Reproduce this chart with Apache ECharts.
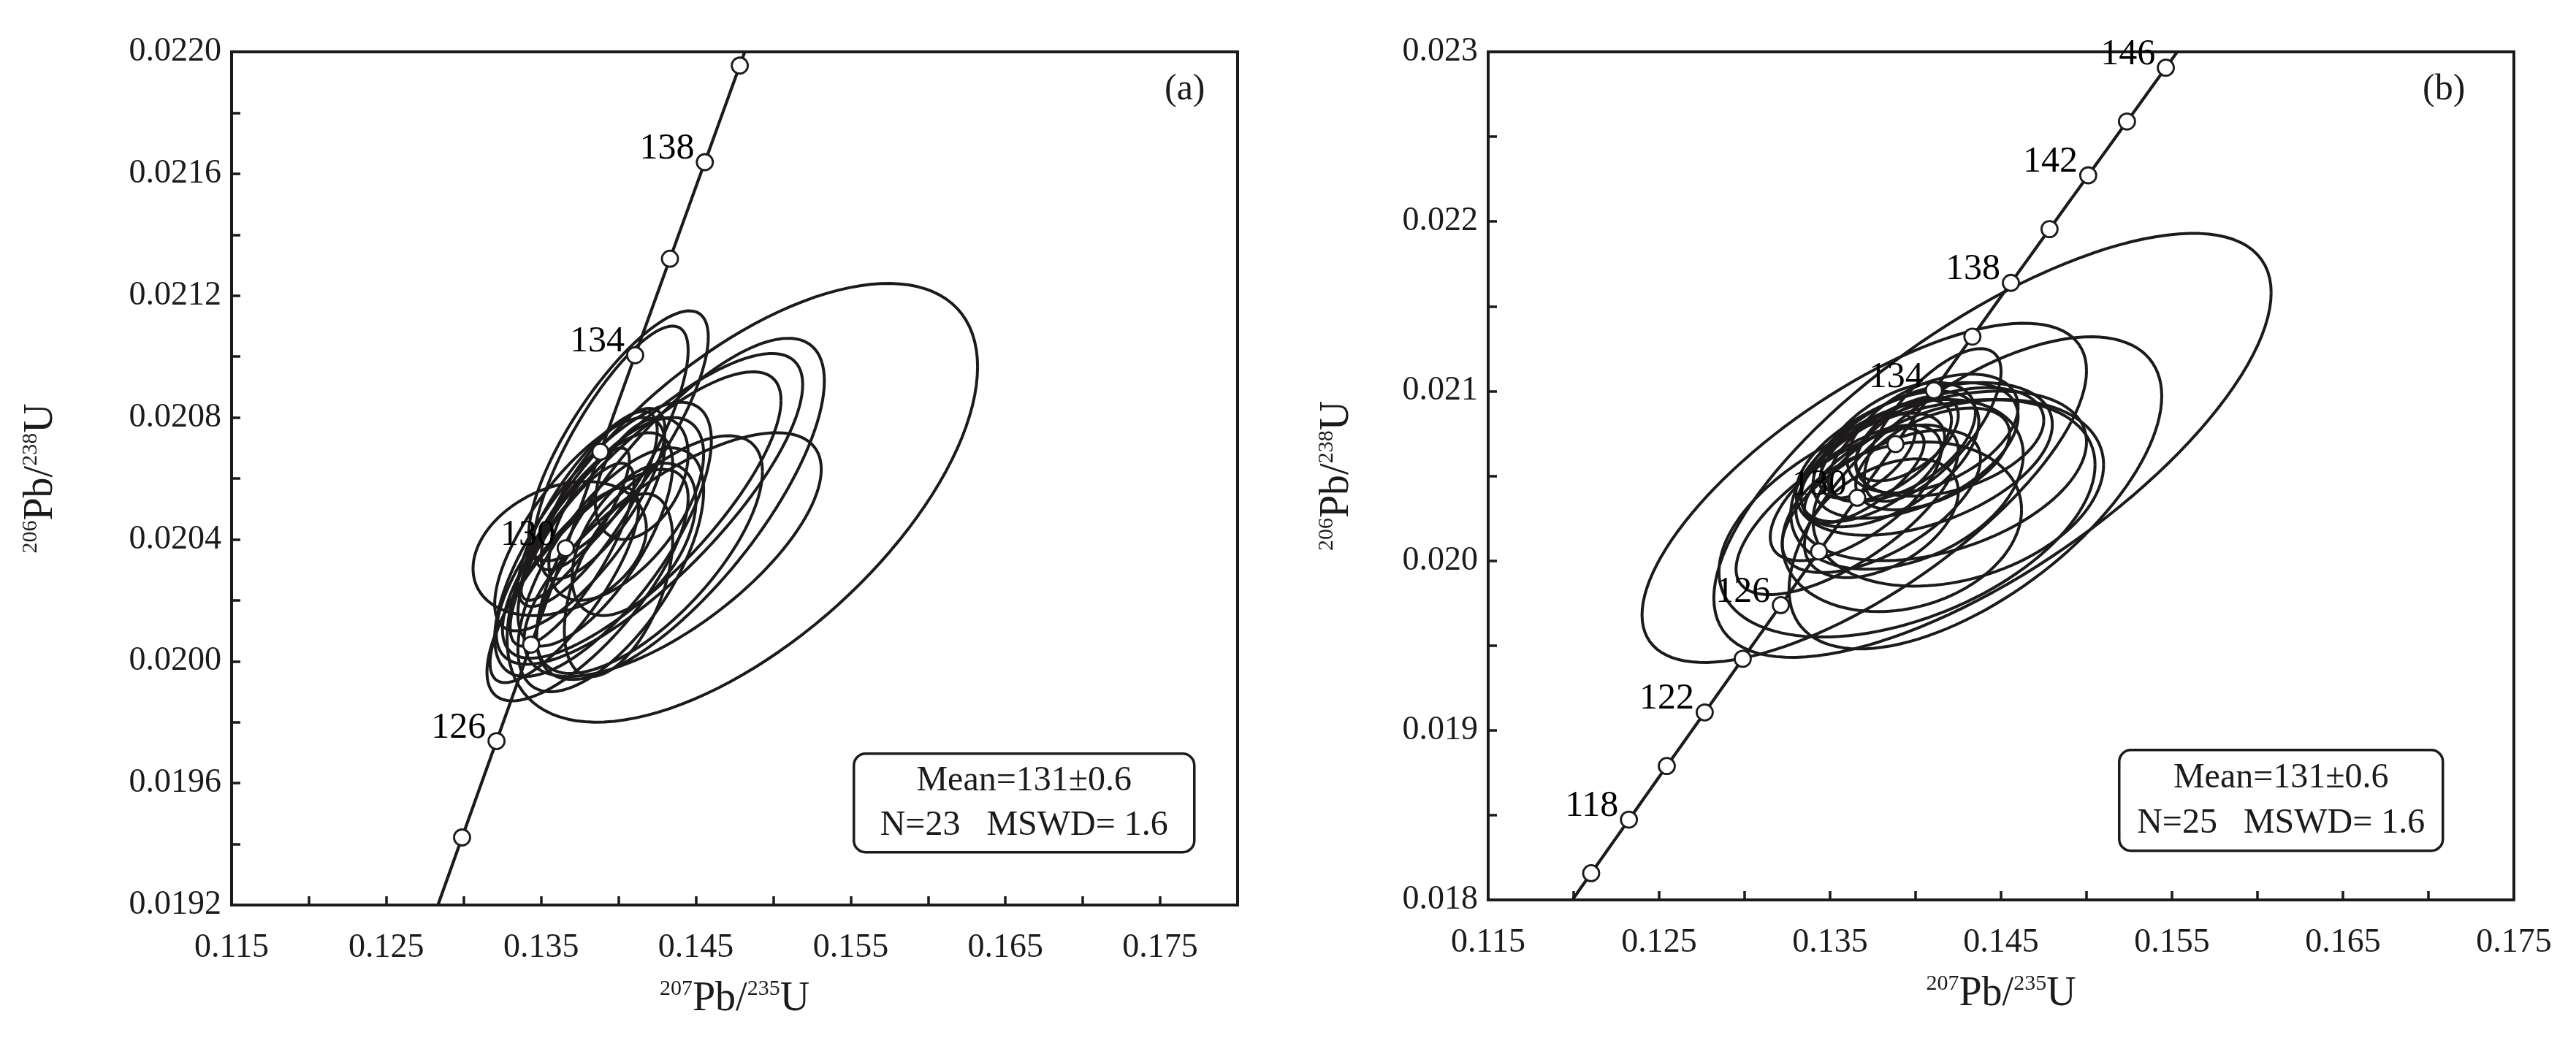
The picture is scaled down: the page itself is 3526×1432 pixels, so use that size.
<!DOCTYPE html>
<html>
<head>
<meta charset="utf-8">
<script src="https://cdn.jsdelivr.net/npm/echarts@6/dist/echarts.min.js"></script>
<style>
  html, body { margin: 0; padding: 0; background: #fff; }
  #main { width: 3526px; height: 1432px; }
</style>
</head>
<body>
<div id="main"></div>
<script>
// decay constants, per Ma
const L238 = 1.55125e-4;
const L235 = 9.8485e-4;

// (a) concordia ages and which of them carry a label
const agesA = [122, 124, 126, 128, 130, 132, 134, 136, 138, 140, 142];
const labelAgesA = [126, 130, 134, 138];
// (a) ellipses: [207Pb/235U, half-width, 206Pb/238U, half-height, rho]
const ellA = [
  [0.1480, 0.0152, 0.02052, 0.00072, 0.62],
  [0.1440, 0.0093, 0.02050, 0.00056, 0.75],
  [0.1420, 0.0099, 0.02050, 0.00051, 0.80],
  [0.1415, 0.0090, 0.02048, 0.00047, 0.80],
  [0.1435, 0.0096, 0.02035, 0.00040, 0.70],
  [0.1420, 0.0073, 0.02035, 0.00039, 0.70],
  [0.1400, 0.0058, 0.02074, 0.00041, 0.79],
  [0.1395, 0.0050, 0.02070, 0.00040, 0.80],
  [0.1362, 0.0056, 0.02037, 0.00022, 0.30],
  [0.1375, 0.0055, 0.02045, 0.00035, 0.75],
  [0.1380, 0.0045, 0.02050, 0.00032, 0.80],
  [0.1385, 0.0050, 0.02040, 0.00035, 0.70],
  [0.1370, 0.0040, 0.02035, 0.00030, 0.80],
  [0.1390, 0.0040, 0.02055, 0.00028, 0.75],
  [0.1395, 0.0060, 0.02030, 0.00040, 0.65],
  [0.1405, 0.0050, 0.02050, 0.00030, 0.60],
  [0.1380, 0.0065, 0.02025, 0.00038, 0.75],
  [0.1410, 0.0040, 0.02040, 0.00025, 0.50],
  [0.1415, 0.0030, 0.02060, 0.00020, 0.40],
  [0.1372, 0.0035, 0.02045, 0.00025, 0.85],
  [0.1400, 0.0035, 0.02025, 0.00030, 0.50],
  [0.1365, 0.0048, 0.02025, 0.00032, 0.80],
  [0.1390, 0.0070, 0.02040, 0.00045, 0.72]
];

// (b)
const agesB = [114, 116, 118, 120, 122, 124, 126, 128, 130, 132, 134, 136, 138, 140, 142, 144, 146, 148];
const labelAgesB = [118, 122, 126, 130, 134, 138, 142, 146];
const ellB = [
  [0.1445, 0.0163, 0.02068, 0.00125, 0.72],
  [0.1435, 0.0109, 0.02040, 0.00092, 0.62],
  [0.1370, 0.0130, 0.02040, 0.00100, 0.72],
  [0.1395, 0.0110, 0.02025, 0.00070, 0.45],
  [0.1425, 0.0085, 0.02040, 0.00055, 0.30],
  [0.1415, 0.0085, 0.02050, 0.00050, 0.40],
  [0.1405, 0.0075, 0.02060, 0.00045, 0.45],
  [0.1400, 0.0060, 0.02065, 0.00040, 0.50],
  [0.1395, 0.0068, 0.02045, 0.00050, 0.35],
  [0.1385, 0.0052, 0.02060, 0.00040, 0.55],
  [0.1390, 0.0045, 0.02070, 0.00035, 0.50],
  [0.1380, 0.0058, 0.02035, 0.00042, 0.60],
  [0.1375, 0.0042, 0.02055, 0.00032, 0.55],
  [0.1410, 0.0050, 0.02075, 0.00035, 0.45],
  [0.1420, 0.0055, 0.02070, 0.00032, 0.40],
  [0.1410, 0.0040, 0.02080, 0.00045, 0.70],
  [0.1365, 0.0050, 0.02040, 0.00040, 0.65],
  [0.1370, 0.0035, 0.02050, 0.00028, 0.70],
  [0.1385, 0.0036, 0.02065, 0.00030, 0.60],
  [0.1395, 0.0030, 0.02072, 0.00025, 0.55],
  [0.1392, 0.0070, 0.02020, 0.00050, 0.20],
  [0.1410, 0.0045, 0.02060, 0.00030, 0.50],
  [0.1380, 0.0045, 0.02025, 0.00035, 0.45],
  [0.1360, 0.0065, 0.02030, 0.00050, 0.70],
  [0.1372, 0.0028, 0.02062, 0.00025, 0.60]
];

const statsA = ['Mean=131±0.6', 'N=23   MSWD= 1.6'];
const statsB = ['Mean=131±0.6', 'N=25   MSWD= 1.6'];

const FONT = 'Liberation Serif';
const INK = '#1c1a1a';

function concordiaPoint(t) {
  return [Math.exp(L235 * t) - 1, Math.exp(L238 * t) - 1];
}

function concordiaLine(ages) {
  let pts = [];
  let t0 = ages[0], t1 = ages[ages.length - 1];
  for (let t = t0; t <= t1 + 1e-9; t += 0.25) pts.push(concordiaPoint(t));
  return pts;
}

function ellipse(e) {
  let [cx, sx, cy, sy, rho] = e;
  let pts = [];
  let k = Math.sqrt(1 - rho * rho);
  for (let i = 0; i <= 120; i++) {
    let a = (i / 120) * Math.PI * 2;
    pts.push([cx + sx * Math.cos(a), cy + sy * (rho * Math.cos(a) + k * Math.sin(a))]);
  }
  return pts;
}

function panelSeries(gi, ages, labelAges, ells) {
  let out = [];
  ells.forEach(e => {
    out.push({
      type: 'line', xAxisIndex: gi, yAxisIndex: gi, data: ellipse(e),
      showSymbol: false, silent: true, z: 2,
      lineStyle: { color: INK, width: 4 }
    });
  });
  out.push({
    type: 'line', xAxisIndex: gi, yAxisIndex: gi, data: concordiaLine(ages),
    showSymbol: false, silent: true, z: 3,
    lineStyle: { color: INK, width: 4.2 }
  });
  out.push({
    type: 'scatter', xAxisIndex: gi, yAxisIndex: gi, z: 4,
    data: ages.map(t => ({ value: concordiaPoint(t), age: t })),
    symbol: 'circle', symbolSize: 22,
    itemStyle: { color: '#fff', borderColor: INK, borderWidth: 2.8, opacity: 1 },
    label: {
      show: true, position: 'left', distance: 2, offset: [0, -18],
      fontFamily: FONT, fontSize: 50, color: '#000', opacity: 1,
      textBorderWidth: 0,
      formatter: p => labelAges.includes(p.data.age) ? String(p.data.age) : ''
    }
  });
  return out;
}

const tickLabel = { fontFamily: FONT, fontSize: 46, color: INK };
const titleRich = {
  s: { fontFamily: FONT, fontSize: 30, color: INK, verticalAlign: 'top', lineHeight: 58 },
  b: { fontFamily: FONT, fontSize: 56, color: INK, lineHeight: 58 }
};

function xAxisCfg(gi, max) {
  return {
    type: 'value', gridIndex: gi, min: 0.115, max: max, interval: 0.005,
    axisLine: { show: true, onZero: false, lineStyle: { color: INK, width: 4 } },
    axisTick: { inside: true, length: 12, lineStyle: { color: INK, width: 3.5 } },
    axisLabel: Object.assign({ margin: 36,
      formatter: v => Math.round((v - 0.115) / 0.005) % 2 === 0 ? v.toFixed(3) : '' }, tickLabel),
    splitLine: { show: false },
    name: '{s|207}{b|Pb/}{s|235}{b|U}', nameLocation: 'middle', nameGap: 100,
    nameTextStyle: { rich: titleRich }
  };
}

function yAxisCfg(gi, min, max, step, digits, gap) {
  return {
    type: 'value', gridIndex: gi, min: min, max: max, interval: step,
    axisLine: { show: true, onZero: false, lineStyle: { color: INK, width: 4 } },
    axisTick: { inside: true, length: 12, lineStyle: { color: INK, width: 3.5 } },
    axisLabel: Object.assign({ margin: 14,
      formatter: v => Math.round((v - min) / step) % 2 === 0 ? v.toFixed(digits) : '' }, tickLabel),
    splitLine: { show: false },
    name: '{s|206}{b|Pb/}{s|238}{b|U}', nameLocation: 'middle', nameGap: gap, nameRotate: 90,
    nameTextStyle: { rich: titleRich }
  };
}

function statBox(x, y, w, h, lines) {
  return {
    type: 'group', left: x, top: y,
    children: [
      { type: 'rect', shape: { x: 0, y: 0, width: w, height: h, r: 16 },
        style: { fill: '#fff', stroke: INK, lineWidth: 3.5 }, z: 10 },
      { type: 'text', x: w / 2, y: h * 0.28, z: 11,
        style: { text: lines[0], font: '48px "Liberation Serif"', fill: INK, textAlign: 'center', textVerticalAlign: 'middle' } },
      { type: 'text', x: w / 2, y: h * 0.73, z: 11,
        style: { text: lines[1], font: '48px "Liberation Serif"', fill: INK, textAlign: 'center', textVerticalAlign: 'middle' } }
    ]
  };
}

const chart = echarts.init(document.getElementById('main'));
chart.setOption({
  backgroundColor: '#fff',
  animation: false,
  grid: [
    { left: 317, top: 71, width: 1377, height: 1168, show: true, borderColor: INK, borderWidth: 4 },
    { left: 2037, top: 71, width: 1404, height: 1161, show: true, borderColor: INK, borderWidth: 4 }
  ],
  xAxis: [xAxisCfg(0, 0.180), xAxisCfg(1, 0.175)],
  yAxis: [yAxisCfg(0, 0.0192, 0.0220, 0.0002, 4, 232), yAxisCfg(1, 0.018, 0.023, 0.0005, 3, 178)],
  series: [].concat(
    panelSeries(0, agesA, labelAgesA, ellA),
    panelSeries(1, agesB, labelAgesB, ellB)
  ),
  graphic: [
    statBox(1167, 1030, 466, 135, statsA),
    statBox(2899, 1025, 443, 138, statsB),
    { type: 'text', left: 1594, top: 98, style: { text: '(a)', font: '50px "Liberation Serif"', fill: INK } },
    { type: 'text', left: 3316, top: 98, style: { text: '(b)', font: '50px "Liberation Serif"', fill: INK } }
  ]
});
</script>
</body>
</html>
